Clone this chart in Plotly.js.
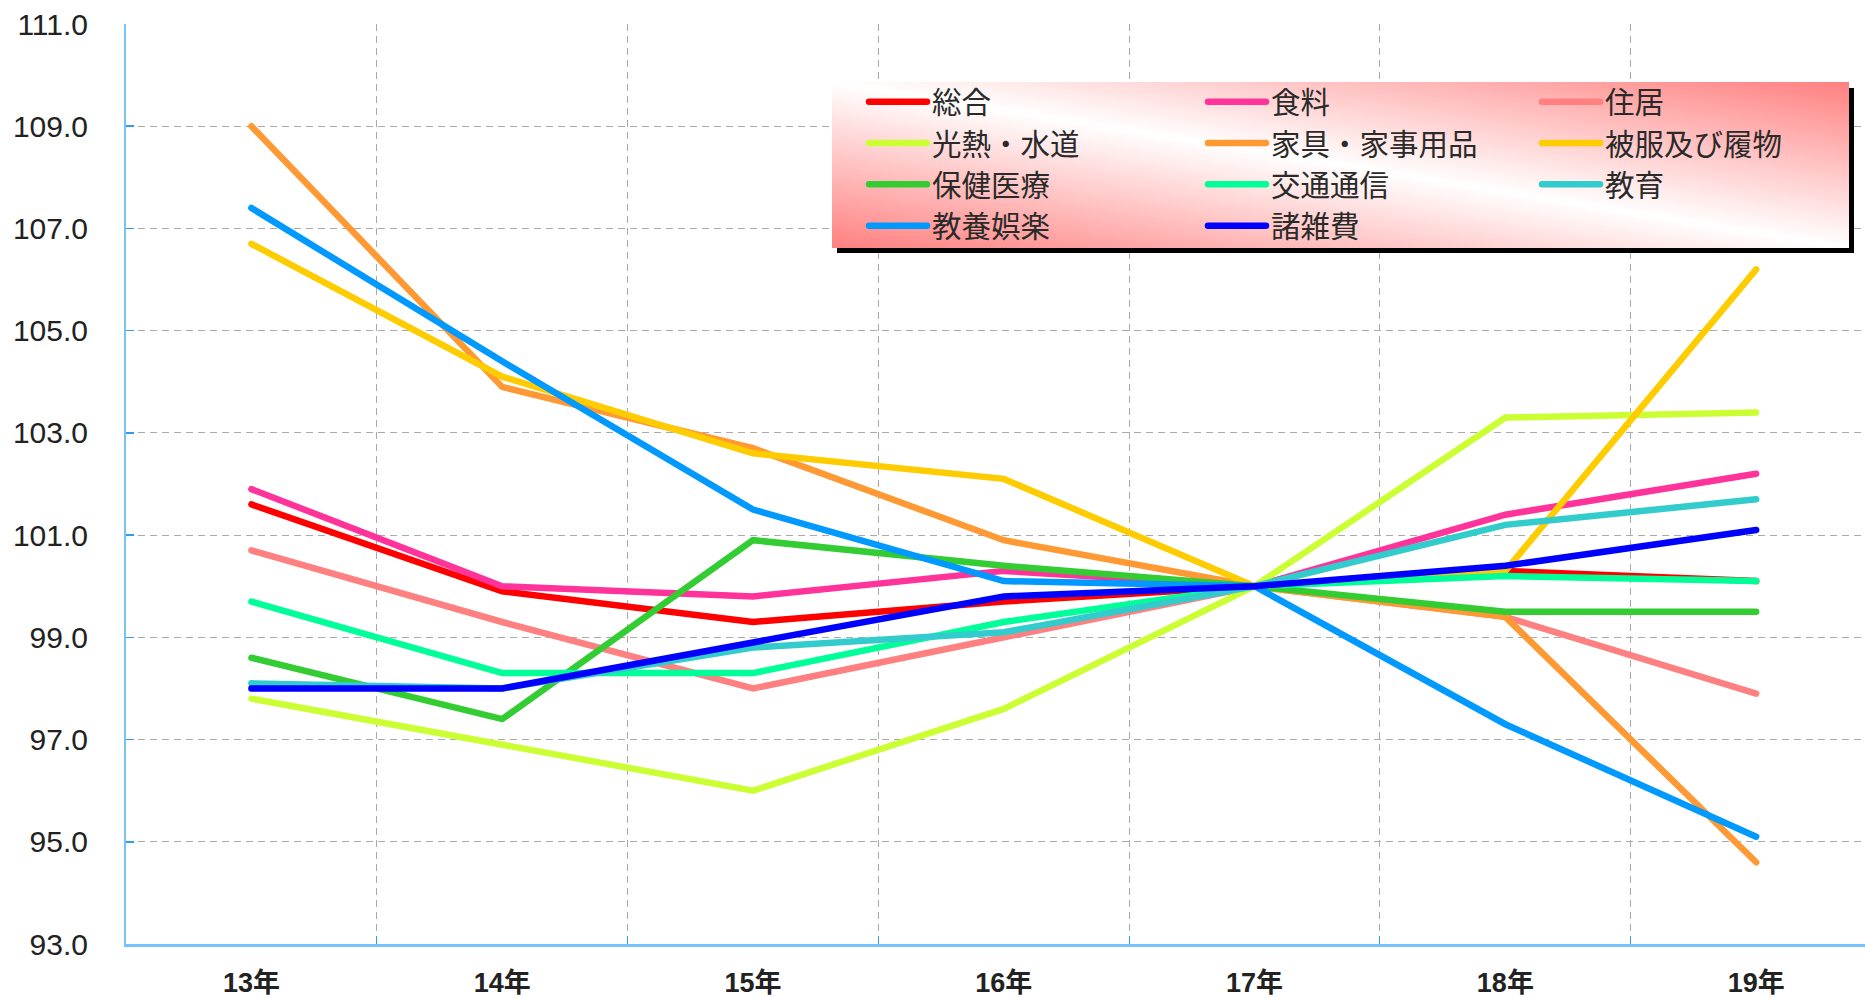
<!DOCTYPE html>
<html>
<head>
<meta charset="utf-8">
<script src="https://cdn.plot.ly/plotly-3.0.1.min.js"></script>
<style>
html,body{margin:0;padding:0;background:#fff;}
path.js-line{stroke-linecap:round;}
</style>
</head>
<body>
<div id="chart" style="width:1865px;height:998px;"></div>
<script>
// ---- data ----
var years = ['13年','14年','15年','16年','17年','18年','19年'];
var sogo     = [101.6, 99.9, 99.3, 99.7, 100.0, 100.3, 100.1];
var shokuryo = [101.9, 100.0, 99.8, 100.3, 100.0, 101.4, 102.2];
var jukyo    = [100.7, 99.3, 98.0, 99.0, 100.0, 99.4, 97.9];
var konetsu  = [97.8, 96.9, 96.0, 97.6, 100.0, 103.3, 103.4];
var kagu     = [109.0, 103.9, 102.7, 100.9, 100.0, 99.4, 94.6];
var hifuku   = [106.7, 104.1, 102.6, 102.1, 100.0, 100.3, 106.2];
var hoken    = [98.6, 97.4, 100.9, 100.4, 100.0, 99.5, 99.5];
var kotsu    = [99.7, 98.3, 98.3, 99.3, 100.0, 100.2, 100.1];
var kyoiku   = [98.1, 98.0, 98.8, 99.1, 100.0, 101.2, 101.7];
var kyoyo    = [107.4, 104.4, 101.5, 100.1, 100.0, 97.3, 95.1];
var shozappi = [98.0, 98.0, 98.9, 99.8, 100.0, 100.4, 101.1];
var yTicks = [93, 95, 97, 99, 101, 103, 105, 107, 109, 111];

var series = [
  {name:'総合',         y:sogo,     color:'#ff0000', legend:'legend'},
  {name:'食料',         y:shokuryo, color:'#ff3399', legend:'legend2'},
  {name:'住居',         y:jukyo,    color:'#ff8080', legend:'legend3'},
  {name:'光熱・水道',   y:konetsu,  color:'#ccff33', legend:'legend'},
  {name:'家具・家事用品', y:kagu,    color:'#ff9933', legend:'legend2'},
  {name:'被服及び履物', y:hifuku,   color:'#ffcc00', legend:'legend3'},
  {name:'保健医療',     y:hoken,    color:'#33cc33', legend:'legend'},
  {name:'交通通信',     y:kotsu,    color:'#00ff99', legend:'legend2'},
  {name:'教育',         y:kyoiku,   color:'#33cccc', legend:'legend3'},
  {name:'教養娯楽',     y:kyoyo,    color:'#0099ff', legend:'legend'},
  {name:'諸雑費',       y:shozappi, color:'#0000ff', legend:'legend2'}
];

var traces = series.map(function(s){
  return {
    type:'scatter', mode:'lines', name:s.name, x:years, y:s.y,
    line:{color:s.color, width:6.5},
    legend:s.legend, hoverinfo:'x+y+name'
  };
});

// legend background (gradient + shadow)
var bgSvg = '<svg xmlns="http://www.w3.org/2000/svg" width="1022" height="171" viewBox="0 0 1022 171" preserveAspectRatio="none">' +
  '<defs><linearGradient id="g" x1="0" y1="1" x2="1" y2="0">' +
  '<stop offset="0" stop-color="#ff8080"/><stop offset="0.5" stop-color="#ffffff"/><stop offset="1" stop-color="#ff8080"/>' +
  '</linearGradient></defs>' +
  '<rect x="5" y="6" width="1017" height="165" fill="#000"/>' +
  '<rect x="0" y="0" width="1017" height="166" fill="url(#g)"/></svg>';
var bgSrc = 'data:image/svg+xml;charset=utf-8,' + encodeURIComponent(bgSvg);

var legFont = {family:'Noto Sans CJK JP, Noto Sans, sans-serif', size:29.5, color:'#2a2a2a'};
function leg(x){
  return {x:x, y:0.9435, xanchor:'left', yanchor:'top', orientation:'v',
          bgcolor:'rgba(0,0,0,0)', borderwidth:0, font:legFont, itemwidth:58, tracegroupgap:0};
}

var layout = {
  width:1865, height:998,
  margin:{l:126, r:0, t:24, b:54},
  paper_bgcolor:'#ffffff', plot_bgcolor:'#ffffff',
  showlegend:true,
  xaxis:{
    type:'category', range:[-0.5, 6.434], tickson:'boundaries',
    showgrid:true, gridcolor:'#aaaaaa', gridwidth:1, griddash:'7px,5px',
    showline:true, linecolor:'#77c3f7', linewidth:2.5,
    ticks:'inside', ticklen:8, tickcolor:'#2f9bf0', tickwidth:1,
    tickfont:{family:'Liberation Sans, Noto Sans CJK JP, sans-serif', size:27, color:'#222222', weight:'bold'},
    ticklabelstandoff:13, zeroline:false, fixedrange:true
  },
  yaxis:{
    range:[93, 111], tickvals:yTicks, tickformat:'.1f',
    showgrid:true, gridcolor:'#aaaaaa', gridwidth:1, griddash:'7px,5px',
    showline:true, linecolor:'#77c3f7', linewidth:2,
    ticks:'inside', ticklen:8, tickcolor:'#2f9bf0', tickwidth:1.5,
    tickfont:{family:'Liberation Sans, Arial, sans-serif', size:30, color:'#222222'},
    ticklabelstandoff:30, zeroline:false, fixedrange:true
  },
  legend:leg(0.4244),
  legend2:leg(0.6193),
  legend3:leg(0.8114),
  images:[{
    source:bgSrc, xref:'paper', yref:'paper',
    x:(832-126)/1739, y:(944-82)/920, sizex:1022/1739, sizey:171/920,
    xanchor:'left', yanchor:'top', sizing:'stretch', layer:'above'
  }]
};

Plotly.newPlot('chart', traces, layout, {displayModeBar:false, staticPlot:true});
</script>
</body>
</html>
